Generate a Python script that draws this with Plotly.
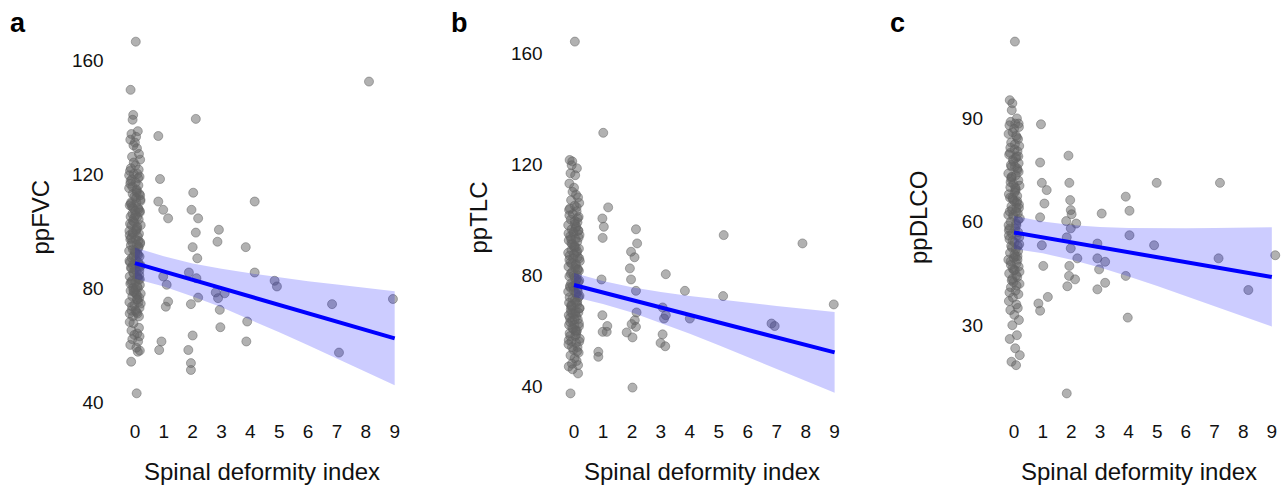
import plotly.graph_objects as go

# ---------------- data ----------------
# jitter offsets (hundredths of a unit) for the x = 0 column
jit0 = [3, -15, -6, -8, 10, -12, 4, -16, 0, -5, 7, 14, -10, 18, 2, -14,
        -17, 9, -4, 16, -11, 3, 12, -20, 6, -8, 15, -2, 19, -13, 5, -18, 11, -6, 1, 17,
        -9, 8, -15, 13, -3, 20, -12, 7, -19, 4, 14, -7, 10, -16, 2, 18, -10, 6, -14, 12,
        -1, -20, 9, 16, -5, 3, -17, 11, -8, 19, -11, 5, 15, -4, -18, 8, 13, -13, 1, 17,
        -6, 10, -15, 4, 20, -9, 7, -19, 12, -2, 16, -12, 2, 9, -7, 14,
        -18, -5, 14, -12, 8, -2, 16, -9, 11, -16, 5, 17, 10, -13, 6,
        11, -9, 4, -14, 17, -3, 8, -18, 13, 1, -11, 19, -6, 9, -16, 3, 15, -10, 6, -20, 18, -7, 12, -1, 7,
        -4, 13, -15, 6, 19, -10, 2, -17,
        5, -13, 18, -7, 11, -19, 0, 15, -10, 8, -3, 20, -16, 6, 13, -8, 2, -14, 17, -5,
        9, -18, 12, -1, -11, 16, -6, 4, 19, -12]

# Panel a: ppFVC
a0_y = [166.4, 149.5, 140.7, 139.0, 135.0, 134.0, 133.0, 132.0, 131.0, 130.0, 129.0, 127.0, 126.0, 125.0, 123.0, 122.0,
        121, 120, 120, 119, 118, 117, 116, 115, 114, 113, 113, 112, 111, 110, 110, 109, 108, 108, 107, 107,
        106, 105, 105, 104, 103, 102, 102, 101, 100, 100, 99, 99, 98, 97, 97, 96, 96, 95, 95, 94,
        93, 93, 92, 91, 91, 90, 89, 89, 88, 88, 87, 86, 86, 85, 84, 84, 83, 82, 82, 81,
        80, 80, 79, 78, 78, 77, 76, 75, 75, 74, 73, 72, 72, 71, 70, 70,
        68, 67.6, 66, 65, 64, 63.5, 63, 62, 61.2, 60, 59, 58, 57.6, 54.1, 43,
        118.5, 115.5, 111.5, 109.5, 106.5, 104.5, 101.5, 98.5, 94.5, 92.5, 90.5, 87.5, 85.5, 83.5, 81.5,
        79.5, 76.5, 73.5, 71.5, 119.5, 112.5, 103.5, 96.5, 88.5, 77.5,
        124, 121.5, 117.5, 114.5, 110.5, 108.5, 105.5, 102.5, 100.5, 97.5, 95.5, 93.5, 91.5, 89.5, 86.5,
        84.5, 82.5, 80.5, 78.5, 74.5, 116.5, 113.5, 107.5, 99.5, 92, 87, 83, 79, 76, 71]
a_xn = [0.81, 0.87, 0.81, 0.98, 1.15, 0.98, 1.10, 1.15, 1.07, 0.92, 0.84,
        2.11, 2.02, 1.96, 2.19, 2.11, 2.00, 2.16, 1.87, 2.13, 2.19, 1.94, 2.00, 1.85, 1.94, 1.94,
        2.91, 2.86, 2.80, 3.11, 2.88, 2.94, 2.96,
        3.84, 4.15, 4.15, 3.89, 3.86,
        4.84, 4.92, 6.83, 7.07, 8.11, 8.94]
a_yn = [133.3, 118.2, 110.3, 107.4, 104.4, 84.0, 81.1, 75.2, 73.4, 61.2, 58.2,
        139.3, 113.4, 107.4, 104.4, 99.4, 94.3, 90.4, 85.4, 83.4, 76.6, 74.3, 63.3, 58.2, 53.6, 51.2,
        100.4, 96.2, 78.4, 78.1, 76.4, 72.3, 66.2,
        94.3, 110.3, 85.4, 68.2, 61.2,
        82.5, 80.5, 74.3, 57.3, 152.4, 76.1]

# Panel b: ppTLC
b0_y = [164.2, 121.5, 121, 119.6, 118.5, 116.7, 116, 113, 111.5, 110,
        109, 108, 107, 106, 105, 104, 103.5, 103, 102, 101,
        100, 99.5, 99, 98, 97, 96.5, 96, 95, 94.5, 94,
        93, 92.5, 92, 91, 90, 89.5, 89, 88, 87, 86.5,
        86, 85, 84.5, 84, 83, 82.5, 82, 81, 80, 79.5,
        79, 78, 77, 76.5, 76, 75, 74.5, 74, 73, 72,
        71.5, 71, 70, 69.5, 69, 68, 67.5, 67, 66.5, 66,
        65.5, 65, 64, 63, 62, 61.5, 61, 60, 59, 58,
        57, 56, 55.5, 55, 54, 53, 52, 51, 50, 49,
        48, 47.5, 47, 46, 44.5, 37.3,
        97.5, 95.5, 93.5, 91.5, 88.5, 85.5, 83.5, 81.5, 78.5, 75.5,
        73.5, 70.5, 68.5, 66, 64.5, 62.5, 60.5, 58.5, 56.5, 100.5,
        90.5, 80.5, 72.5, 63.5,
        104.5, 101.5, 98.5, 96, 93, 90, 88, 86, 84, 82, 80, 78, 76, 74, 72,
        70, 68, 66.5, 64, 62, 60, 58, 56, 54, 52.5, 95, 87.5, 77.5, 69, 59.5]
b_xn = [1.01, 1.18, 0.98, 1.03, 0.99, 0.95, 0.98, 1.15, 0.99, 1.13, 0.84, 0.84,
        2.14, 2.18, 1.97, 2.09, 1.93, 1.97, 2.14, 2.16, 2.10, 1.99, 2.14, 1.82, 2.02, 2.02,
        3.17, 3.06, 3.17, 3.11, 3.06, 2.99, 3.15,
        3.83, 4.00, 5.17, 5.15, 6.82, 6.93, 7.89, 8.97]
b_yn = [131.3, 104.4, 100.4, 97.4, 93.4, 78.4, 65.5, 61.6, 59.5, 59.5, 52.3, 50.5,
        96.5, 91.4, 88.4, 86.4, 82.4, 78.4, 74.3, 66.5, 63.7, 62.3, 61.3, 59.3, 57.5, 39.4,
        80.3, 68.3, 65.5, 64.3, 58.6, 55.5, 54.3,
        74.3, 64.3, 94.4, 72.4, 62.5, 61.6, 91.4, 69.4]

# Panel c: ppDLCO
c0_y = [112.3, 95.3, 94.4, 92.4, 90, 89, 88.5, 88, 87, 86,
        85, 84, 83, 82, 81, 80, 79.5, 79, 78, 77,
        76.5, 76, 75, 74, 73.5, 73, 72, 71, 70.5, 70,
        69, 68, 67.5, 67, 66, 65, 64.5, 64, 63, 62.5,
        62, 61, 60, 59.5, 59, 58, 57, 56.5, 56, 55,
        54, 53.5, 53, 52, 51, 50, 49.5, 49, 48, 47,
        46.5, 46, 45, 44, 43, 42, 41, 40, 39, 38,
        37, 36, 35, 34.4, 33, 31.5, 30, 27.1, 26, 23.3,
        21.3, 19.4, 18.4,
        85.5, 80.5, 77.5, 74.5, 71.5, 68.5, 65.5, 63.5, 60.5, 57.5,
        54.5, 51.5, 48.5, 44.5, 42.5, 88.5, 76, 66, 58, 50,
        87.5, 84.5, 81.5, 78.5, 75.5, 73, 70, 67, 64, 61.5, 59, 56, 53, 50.5, 47.5,
        45.5, 43.5, 41.5, 39.5, 82.5, 79, 72.5, 69.5, 62, 55.5, 52.5, 49, 46, 63, 66.5]
c_xn = [0.94, 0.91, 0.97, 1.14, 1.06, 0.91, 0.97, 1.02, 1.18, 0.85, 0.91,
        1.90, 1.93, 1.96, 1.98, 2.01, 1.82, 2.17, 1.98, 1.84, 1.98, 2.21, 1.93, 1.92, 2.13, 1.86, 1.84,
        3.06, 2.91, 2.91, 3.18, 2.97, 3.18, 2.91,
        3.90, 4.03, 4.03, 3.90, 3.97,
        4.98, 4.89, 7.19, 7.14, 8.18, 9.12]
c_yn = [88.3, 77.2, 71.3, 69.2, 65.3, 61.3, 53.2, 47.2, 38.2, 36.3, 34.2,
        79.2, 71.3, 66.3, 63.4, 62.2, 60.2, 59.5, 58.1, 55.5, 52.3, 49.4, 47.2, 44.3, 43.3, 41.3, 10.2,
        62.4, 53.7, 49.4, 48.4, 46.2, 42.3, 40.4,
        67.3, 63.2, 56.1, 44.3, 32.2,
        71.3, 53.2, 71.3, 49.4, 40.2, 50.3]

# fitted lines and 95% bands
fit_x = [0, 1, 2, 3, 4, 5, 6, 7, 8, 9]
a_fit = [88.7, 85.8, 82.8, 79.9, 77.0, 74.0, 71.1, 68.2, 65.2, 62.3]
a_lo = [83.2, 80.5, 77.0, 73.2, 68.9, 64.4, 59.9, 55.3, 50.5, 45.8]
a_hi = [94.2, 91.1, 88.6, 86.7, 85.1, 83.6, 82.3, 81.2, 79.9, 78.8]
b_fit = [76.4, 73.7, 71.0, 68.3, 65.6, 62.9, 60.2, 57.5, 54.8, 52.1]
b_lo = [72.1, 69.55, 66.44, 62.75, 58.78, 54.65, 50.42, 46.15, 41.84, 37.5]
b_hi = [80.7, 77.85, 75.56, 73.85, 72.42, 71.15, 69.98, 68.85, 67.76, 66.7]
c_fit = [56.9, 55.47, 54.03, 52.6, 51.17, 49.73, 48.3, 46.87, 45.43, 44.0]
c_lo = [52.1, 50.85, 49.0, 46.71, 44.12, 41.35, 38.49, 35.57, 32.59, 29.6]
c_hi = [61.7, 60.09, 59.06, 58.49, 58.22, 58.11, 58.11, 58.17, 58.27, 58.4]

x_ticks = [0, 1, 2, 3, 4, 5, 6, 7, 8, 9]
a_ticks = [40, 80, 120, 160]
b_ticks = [40, 80, 120, 160]
c_ticks = [30, 60, 90]
y_titles = ["ppFVC", "ppTLC", "ppDLCO"]
letters = ["a", "b", "c"]
x_title = "Spinal deformity index"

# ---------------- figure ----------------
W, H = 1285, 486
FONT = "Liberation Sans, Arial, Helvetica, sans-serif"
PT_COL = "rgba(100,100,100,0.5)"

panels = [
    dict(y0=a0_y, xn=a_xn, yn=a_yn, fit=a_fit, lo=a_lo, hi=a_hi, ticks=a_ticks,
         xdom=[112.7 / W, 412.0 / W], xr=[-0.77, 9.6], yr=[36.8, 172.6], ypx=40, lpx=17.5),
    dict(y0=b0_y, xn=b_xn, yn=b_yn, fit=b_fit, lo=b_lo, hi=b_hi, ticks=b_ticks,
         xdom=[551.7 / W, 852.0 / W], xr=[-0.77, 9.6], yr=[30.95, 170.55], ypx=478, lpx=459),
    dict(y0=c0_y, xn=c_xn, yn=c_yn, fit=c_fit, lo=c_lo, hi=c_hi, ticks=c_ticks,
         xdom=[992.0 / W, 1.0], xr=[-0.77, 9.46], yr=[5.1, 117.4], ypx=918.5, lpx=897.5),
]

fig = go.Figure()
annotations = []
for i, p in enumerate(panels):
    n = i + 1
    xa = "x" if n == 1 else f"x{n}"
    ya = "y" if n == 1 else f"y{n}"
    xs = [j / 100 for j in jit0[:len(p["y0"])]] + p["xn"]
    ys = p["y0"] + p["yn"]
    fig.add_trace(go.Scatter(x=xs, y=ys, mode="markers", xaxis=xa, yaxis=ya,
                             marker=dict(size=9, color=PT_COL, line=dict(width=1, color=PT_COL)),
                             showlegend=False, hoverinfo="skip"))
    fig.add_trace(go.Scatter(x=fit_x + fit_x[::-1], y=p["hi"] + p["lo"][::-1], xaxis=xa, yaxis=ya,
                             mode="lines", fill="toself", fillcolor="rgba(0,0,255,0.2)",
                             line=dict(width=0, color="rgba(0,0,0,0)"), showlegend=False, hoverinfo="skip"))
    fig.add_trace(go.Scatter(x=fit_x, y=p["fit"], xaxis=xa, yaxis=ya, mode="lines",
                             line=dict(color="#0000ff", width=4), showlegend=False, hoverinfo="skip"))
    xkey = "xaxis" if n == 1 else f"xaxis{n}"
    ykey = "yaxis" if n == 1 else f"yaxis{n}"
    fig.update_layout(**{
        xkey: dict(domain=p["xdom"], range=p["xr"], anchor=ya, tickmode="array", tickvals=x_ticks,
                   showgrid=False, zeroline=False, showline=False, ticks="",
                   ticklabelstandoff=7, tickfont=dict(size=19, color="#111", family=FONT)),
        ykey: dict(domain=[0, 1], range=p["yr"], anchor=xa, tickmode="array", tickvals=p["ticks"],
                   showgrid=False, zeroline=False, showline=False, ticks="",
                   ticklabelstandoff=8, tickfont=dict(size=19, color="#111", family=FONT)),
    })
    annotations.append(dict(text=y_titles[i], textangle=-90, xref="paper", yref="paper",
                            x=p["ypx"] / W, y=0.5, xanchor="center", yanchor="middle", showarrow=False,
                            font=dict(size=24, color="#111", family=FONT)))
    xc = (p["xdom"][0] + p["xdom"][1]) / 2
    annotations.append(dict(text=x_title, xref="paper", yref="paper", x=xc, y=-0.1566,
                            xanchor="center", yanchor="middle", showarrow=False,
                            font=dict(size=24, color="#111", family=FONT)))
    annotations.append(dict(text="<b>" + letters[i] + "</b>", xref="paper", yref="paper",
                            x=p["lpx"] / W, y=1.0036, xanchor="center", yanchor="middle",
                            showarrow=False, font=dict(size=27, color="#000", family=FONT)))

fig.update_layout(width=W, height=H, margin=dict(l=0, r=0, t=24, b=75),
                  paper_bgcolor="white", plot_bgcolor="white", annotations=annotations,
                  font=dict(family=FONT))

fig.write_html("out.html", config={"displayModeBar": False},
               post_script="document.body.style.margin='0';document.body.style.overflow='hidden';")
